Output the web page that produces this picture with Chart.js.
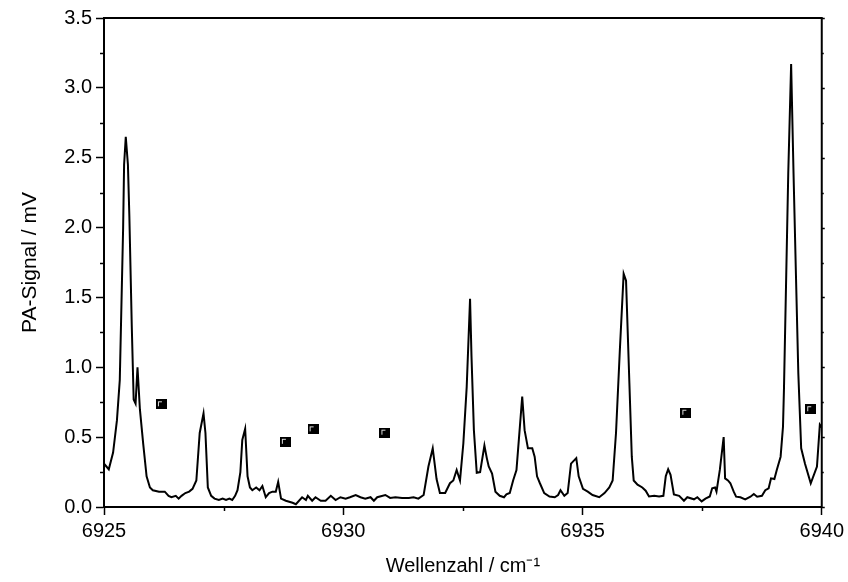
<!DOCTYPE html>
<html>
<head>
<meta charset="utf-8">
<script src="https://cdn.jsdelivr.net/npm/chart.js@4/dist/chart.umd.min.js"></script>
<style>
html,body{margin:0;padding:0;background:#fff;}
#wrap{width:848px;height:582px;}
</style>
</head>
<body>
<div id="wrap"><canvas id="c" width="848" height="582"></canvas></div>
<script>
const wavenumber = [6925.00,6925.05,6925.10,6925.19,6925.27,6925.33,6925.40,6925.42,6925.455,6925.50,6925.53,6925.58,6925.62,6925.66,6925.70,6925.75,6925.82,6925.89,6925.96,6926.02,6926.15,6926.27,6926.35,6926.41,6926.50,6926.56,6926.62,6926.70,6926.78,6926.85,6926.93,6927.00,6927.08,6927.12,6927.17,6927.24,6927.31,6927.40,6927.48,6927.55,6927.62,6927.68,6927.74,6927.79,6927.85,6927.89,6927.95,6928.00,6928.05,6928.10,6928.18,6928.25,6928.31,6928.38,6928.45,6928.52,6928.59,6928.64,6928.70,6928.80,6928.94,6929.01,6929.14,6929.22,6929.26,6929.35,6929.42,6929.53,6929.63,6929.74,6929.84,6929.94,6930.05,6930.14,6930.26,6930.36,6930.46,6930.57,6930.64,6930.71,6930.88,6930.98,6931.09,6931.23,6931.37,6931.47,6931.57,6931.68,6931.78,6931.87,6931.95,6932.02,6932.13,6932.23,6932.30,6932.37,6932.44,6932.51,6932.58,6932.65,6932.68,6932.73,6932.79,6932.86,6932.95,6933.00,6933.04,6933.11,6933.18,6933.27,6933.36,6933.41,6933.48,6933.55,6933.62,6933.69,6933.74,6933.79,6933.86,6933.95,6934.00,6934.05,6934.11,6934.20,6934.31,6934.42,6934.49,6934.54,6934.62,6934.69,6934.76,6934.87,6934.92,6935.01,6935.11,6935.21,6935.35,6935.46,6935.56,6935.63,6935.70,6935.78,6935.86,6935.91,6935.98,6936.03,6936.07,6936.15,6936.25,6936.32,6936.39,6936.50,6936.60,6936.69,6936.74,6936.79,6936.84,6936.91,6937.02,6937.12,6937.19,6937.33,6937.40,6937.49,6937.57,6937.66,6937.71,6937.77,6937.80,6937.87,6937.95,6937.98,6938.04,6938.09,6938.16,6938.21,6938.30,6938.40,6938.51,6938.58,6938.65,6938.75,6938.82,6938.89,6938.94,6939.01,6939.06,6939.14,6939.19,6939.21,6939.30,6939.36,6939.41,6939.46,6939.51,6939.57,6939.65,6939.77,6939.90,6939.96,6940.00];
const signal = [0.31,0.29,0.27,0.39,0.62,0.91,2.00,2.45,2.65,2.45,2.08,1.30,0.77,0.74,1.00,0.70,0.45,0.22,0.14,0.12,0.11,0.11,0.08,0.07,0.08,0.06,0.08,0.10,0.11,0.13,0.19,0.53,0.67,0.53,0.14,0.08,0.06,0.05,0.06,0.05,0.06,0.05,0.08,0.12,0.25,0.48,0.56,0.22,0.14,0.12,0.14,0.12,0.15,0.07,0.10,0.11,0.11,0.18,0.06,0.045,0.03,0.02,0.07,0.05,0.08,0.045,0.07,0.045,0.045,0.08,0.05,0.07,0.06,0.07,0.086,0.07,0.06,0.07,0.045,0.07,0.086,0.065,0.07,0.065,0.065,0.07,0.06,0.086,0.29,0.42,0.20,0.10,0.10,0.17,0.19,0.265,0.19,0.456,0.86,1.49,1.08,0.55,0.245,0.25,0.44,0.35,0.29,0.24,0.11,0.08,0.07,0.09,0.10,0.19,0.265,0.57,0.79,0.55,0.42,0.42,0.36,0.22,0.17,0.10,0.075,0.07,0.086,0.12,0.08,0.10,0.31,0.35,0.22,0.13,0.11,0.086,0.07,0.10,0.14,0.19,0.53,1.12,1.67,1.62,0.885,0.36,0.19,0.16,0.14,0.117,0.075,0.08,0.075,0.08,0.22,0.27,0.23,0.09,0.08,0.045,0.07,0.055,0.07,0.04,0.06,0.075,0.134,0.14,0.11,0.265,0.50,0.205,0.19,0.17,0.11,0.074,0.07,0.055,0.074,0.093,0.074,0.08,0.12,0.134,0.205,0.20,0.265,0.36,0.575,0.84,2.39,3.17,2.39,1.67,0.96,0.42,0.31,0.17,0.29,0.59,0.57];
const markerX = [6926.20,6928.79,6929.37,6930.87,6937.16,6939.77];
const markerY = [0.735,0.467,0.556,0.532,0.675,0.700];
const xTickValues = [6925,6930,6935,6940];
const yTickValues = [0.0,0.5,1.0,1.5,2.0,2.5,3.0,3.5];
const xTitle = 'Wellenzahl / cm\u207B\u00B9';
const yTitle = 'PA-Signal / mV';

// marker glyph
const mk = document.createElement('canvas');
mk.width = 11; mk.height = 10;
(function(){
  const g = mk.getContext('2d');
  g.fillStyle = '#000';
  g.fillRect(0,0,11,10);
  g.fillStyle = '#ddd';
  g.fillRect(2,2,1,5);
  g.fillRect(2,2,4,1);
})();

const minorTicks = {
  id:'minorTicks',
  afterDraw(chart){
    const {ctx, chartArea:a, scales:{x,y}} = chart;
    ctx.save();
    ctx.strokeStyle = '#000';
    ctx.lineWidth = 1.5;
    ctx.beginPath();
    for (let v = 6925; v <= 6940.001; v += 2.5) {
      if (Math.abs(v % 5) < 1e-6) continue;
      const px = Math.round(x.getPixelForValue(v)) + 0.5;
      ctx.moveTo(px, a.bottom); ctx.lineTo(px, a.bottom + 4);
    }
    for (let v = 0.25; v < 3.5; v += 0.5) {
      const py = Math.round(y.getPixelForValue(v)) + 0.5;
      ctx.moveTo(a.left, py); ctx.lineTo(a.left - 4, py);
      ctx.moveTo(a.right, py); ctx.lineTo(a.right + 2, py);
    }
    for (const v of yTickValues) {
      const py = Math.round(y.getPixelForValue(v)) + 0.5;
      ctx.moveTo(a.right, py); ctx.lineTo(a.right + 3, py);
    }
    ctx.stroke();
    ctx.lineWidth = 2;
    ctx.beginPath();
    ctx.moveTo(a.left, a.top); ctx.lineTo(a.right, a.top); ctx.lineTo(a.right, a.bottom);
    ctx.stroke();
    ctx.restore();
  }
};

new Chart(document.getElementById('c'), {
  type: 'scatter',
  data: {
    datasets: [
      {
        data: wavenumber.map((v,i)=>({x:v, y:signal[i]})),
        showLine: true,
        borderColor: '#000',
        borderWidth: 2,
        pointRadius: 0,
        tension: 0,
        order: 2
      },
      {
        data: markerX.map((v,i)=>({x:v, y:markerY[i]})),
        showLine: false,
        pointStyle: mk,
        pointRadius: 5,
        order: 1
      }
    ]
  },
  options: {
    responsive: false,
    animation: false,
    events: [],
    layout: { padding: { top: 18, right: 22, left: 0, bottom: 0 } },
    plugins: { legend: { display: false }, tooltip: { enabled: false } },
    scales: {
      x: {
        type: 'linear',
        min: 6925, max: 6940,
        afterBuildTicks(s){ s.ticks = xTickValues.map(v=>({value:v})); },
        afterFit(s){ s.height = 75; },
        ticks: {
          color: '#000',
          font: { family: 'Liberation Sans, Arial, sans-serif', size: 20 },
          padding: 4,
          maxRotation: 0,
          callback: v => String(v)
        },
        grid: { display: true, drawOnChartArea: false, drawTicks: true, tickLength: 8, color: '#000', tickWidth: 1.5 },
        border: { display: true, color: '#000', width: 2 },
        title: {
          display: true, text: xTitle, color: '#000',
          font: { family: 'Liberation Sans, Arial, sans-serif', size: 20 },
          padding: { top: 0, bottom: 4 }
        }
      },
      y: {
        type: 'linear',
        min: 0, max: 3.5,
        afterBuildTicks(s){ s.ticks = yTickValues.map(v=>({value:v})); },
        afterFit(s){ s.width = 104; },
        ticks: {
          color: '#000',
          font: { family: 'Liberation Sans, Arial, sans-serif', size: 20 },
          padding: 4,
          callback: v => Number(v).toFixed(1)
        },
        grid: { display: true, drawOnChartArea: false, drawTicks: true, tickLength: 8, color: '#000', tickWidth: 1.5 },
        border: { display: true, color: '#000', width: 2 },
        title: {
          display: true, text: yTitle, color: '#000',
          font: { family: 'Liberation Sans, Arial, sans-serif', size: 21 },
          padding: { top: 18, bottom: 0 }
        }
      }
    }
  },
  plugins: [minorTicks]
});
</script>
</body>
</html>
